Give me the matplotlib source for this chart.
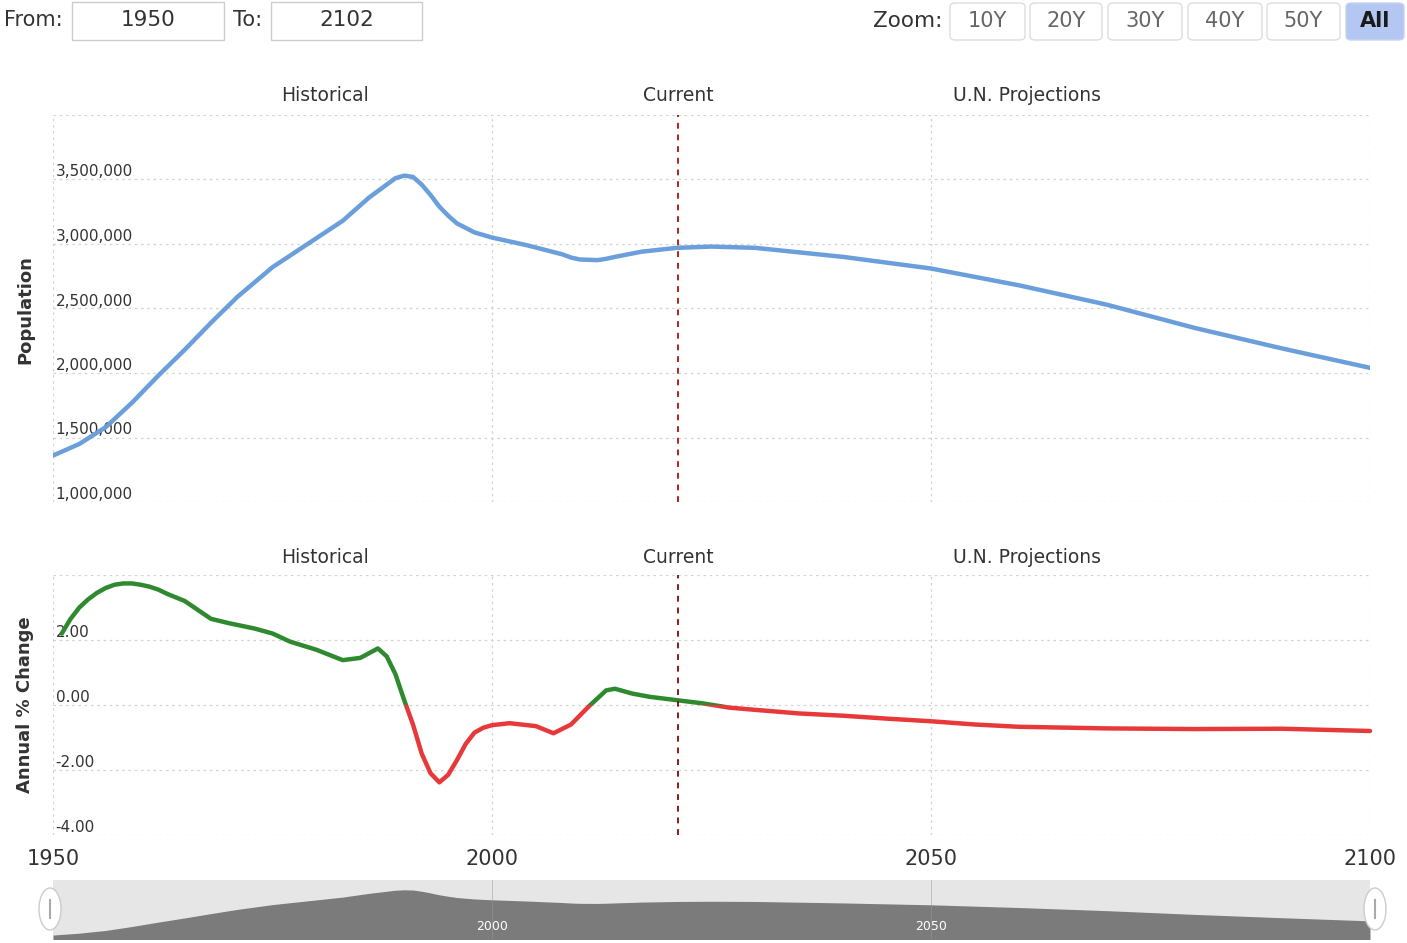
import matplotlib.pyplot as plt
from matplotlib.patches import FancyBboxPatch, Rectangle, Ellipse

# population
pop_years = [1950, 1953, 1956, 1959, 1962, 1965, 1968, 1971, 1975, 1979, 1983, 1986, 1988,
             1989, 1990, 1991, 1992, 1993, 1994, 1995, 1996, 1998, 2000, 2004, 2008, 2009,
             2010, 2012, 2013, 2014, 2017, 2021, 2025, 2030, 2040, 2050, 2060, 2070, 2080,
             2090, 2100]
population = [1360000, 1450000, 1580000, 1770000, 1980000, 2180000, 2390000, 2590000,
              2820000, 3000000, 3180000, 3360000, 3460000, 3510000, 3530000, 3520000,
              3460000, 3380000, 3290000, 3220000, 3160000, 3090000, 3050000, 2990000,
              2920000, 2895000, 2880000, 2875000, 2885000, 2900000, 2940000, 2970000,
              2980000, 2970000, 2900000, 2810000, 2680000, 2530000, 2350000, 2190000,
              2040000]

# annual % change
chg_years = [1951, 1952, 1953, 1954, 1955, 1956, 1957, 1958, 1959, 1960, 1961, 1962, 1963,
             1965, 1968, 1970, 1973, 1975, 1977, 1980, 1983, 1985, 1987, 1988, 1989, 1990,
             1991, 1992, 1993, 1994, 1995, 1996, 1997, 1998, 1999, 2000, 2002, 2005, 2007,
             2009, 2011, 2013, 2014, 2016, 2018, 2021, 2024, 2027, 2030, 2035, 2040, 2045,
             2050, 2055, 2060, 2070, 2080, 2090, 2100]
pct_change = [2.2, 2.65, 3.0, 3.25, 3.45, 3.6, 3.7, 3.74, 3.74, 3.7, 3.64, 3.55, 3.42,
              3.2, 2.65, 2.52, 2.35, 2.2, 1.95, 1.7, 1.38, 1.45, 1.74, 1.5, 0.95, 0.15,
              -0.6, -1.5, -2.1, -2.38, -2.15, -1.7, -1.2, -0.85, -0.7, -0.62, -0.56, -0.65,
              -0.87, -0.6, -0.05, 0.45, 0.5, 0.35, 0.25, 0.15, 0.05, -0.08, -0.15, -0.26,
              -0.33, -0.42, -0.5, -0.6, -0.67, -0.72, -0.74, -0.73, -0.8]

pop_ticks = [1000000, 1500000, 2000000, 2500000, 3000000, 3500000]
chg_ticks = [-4, -2, 0, 2]
x_ticks = [1950, 2000, 2050, 2100]
sections = ['Historical', 'Current', 'U.N. Projections']
section_x = [1981.0, 2021.2, 2060.9]
current_year = 2021.2

W, H = 1407, 943
fig = plt.figure(figsize=(W / 100, H / 100), dpi=100)
plt.rcParams['font.family'] = ['DejaVu Sans']


def fx(px):
    return px / W


def fy(py):
    return 1 - py / H


def axes_box(x0, y0, x1, y1):
    return [fx(x0), fy(y1), fx(x1) - fx(x0), fy(y0) - fy(y1)]


grid_kw = dict(color='#d2d2d2', linewidth=0.9, linestyle=(0, (2, 3)))
txt_col = '#333333'
line_kw = dict(linewidth=3.2, solid_capstyle='round', solid_joinstyle='round', zorder=3)

# ---------- top panel: population ----------
ax1 = fig.add_axes(axes_box(53, 115, 1370, 502))
ax1.plot(pop_years, population, color='#6a9fdb', **line_kw)
ax1.set_xlim(1950, 2100)
ax1.set_ylim(1000000, 4000000)
for v in pop_ticks + [4000000]:
    ax1.axhline(v, **grid_kw, zorder=1)
for v in x_ticks:
    ax1.axvline(v, **grid_kw, zorder=1)
for v in pop_ticks:
    ax1.text(0.002, v, f'{v:,}', transform=ax1.get_yaxis_transform(), fontsize=11,
             color=txt_col, va='bottom', ha='left', zorder=2)
ax1.axvline(current_year, color='#b22222', linewidth=1.4, linestyle=(0, (3, 3)), zorder=4)
ax1.set_xticks([])
ax1.set_yticks([])
for s in ax1.spines.values():
    s.set_visible(False)
for name, x in zip(sections, section_x):
    ax1.text(x, 1.025, name, transform=ax1.get_xaxis_transform(), ha='center',
             va='bottom', fontsize=13.5, color=txt_col)

# ---------- bottom panel: annual % change ----------
ax2 = fig.add_axes(axes_box(53, 575, 1370, 835))
ax2.set_xlim(1950, 2100)
ax2.set_ylim(-4, 4)
pos_line, = ax2.plot(chg_years, pct_change, color='#2f8a2f', **line_kw)
neg_line, = ax2.plot(chg_years, pct_change, color='#e8393a', **line_kw)
pos_line.set_clip_path(Rectangle((1940, 0), 200, 10, transform=ax2.transData))
neg_line.set_clip_path(Rectangle((1940, -10), 200, 10, transform=ax2.transData))
for v in [-4, -2, 0, 2, 4]:
    ax2.axhline(v, **grid_kw, zorder=1)
for v in x_ticks:
    ax2.axvline(v, **grid_kw, zorder=1)
for v in chg_ticks:
    ax2.text(0.002, v, f'{v:.2f}', transform=ax2.get_yaxis_transform(), fontsize=11,
             color=txt_col, va='bottom', ha='left', zorder=2)
ax2.axvline(current_year, color='#8b1a1a', linewidth=1.4, linestyle=(0, (3, 3)), zorder=4)
ax2.set_xticks(x_ticks)
ax2.set_xticklabels([str(v) for v in x_ticks], fontsize=15, color=txt_col)
ax2.tick_params(axis='x', length=0, pad=10)
ax2.set_yticks([])
for s in ax2.spines.values():
    s.set_visible(False)
for name, x in zip(sections, section_x):
    ax2.text(x, 1.03, name, transform=ax2.get_xaxis_transform(), ha='center',
             va='bottom', fontsize=13.5, color=txt_col)

fig.text(fx(25), fy(310), 'Population', rotation=90, ha='center', va='center',
         fontsize=13, fontweight='bold', color=txt_col)
fig.text(fx(25), fy(705), 'Annual % Change', rotation=90, ha='center', va='center',
         fontsize=13, fontweight='bold', color=txt_col)

# ---------- navigator ----------
ax3 = fig.add_axes(axes_box(53, 880, 1370, 939))
ax3.set_facecolor('#e6e6e6')
ax3.fill_between(pop_years, population, 0, color='#7b7b7b', linewidth=0)
ax3.set_xlim(1950, 2100)
ax3.set_ylim(1170000, 4000000)
ax3.set_xticks([])
ax3.set_yticks([])
for s in ax3.spines.values():
    s.set_visible(False)
for v in [2000, 2050]:
    ax3.axvline(v, color='#999999', linewidth=0.6, alpha=0.6)
    ax3.text(v, 0.22, str(v), transform=ax3.get_xaxis_transform(), ha='center',
             va='center', fontsize=9, color='white')
for hx in [50, 1375]:
    fig.patches.append(Ellipse((fx(hx), fy(909)), fx(22), 42 / H, transform=fig.transFigure,
                               facecolor='white', edgecolor='#cccccc', linewidth=1, zorder=5))
    fig.add_artist(plt.Line2D([fx(hx), fx(hx)], [fy(900), fy(918)], color='#aaaaaa',
                              linewidth=1.5, zorder=6))

# ---------- top controls ----------
fig.text(fx(4), fy(20), 'From:', fontsize=15, color=txt_col, va='center', ha='left')
fig.text(fx(233), fy(20), 'To:', fontsize=15, color=txt_col, va='center', ha='left')
for (x0, x1, label) in [(72, 224, '1950'), (271, 422, '2102')]:
    fig.patches.append(Rectangle((fx(x0), fy(40)), fx(x1 - x0), 38 / H,
                                 transform=fig.transFigure, facecolor='white',
                                 edgecolor='#cccccc', linewidth=1))
    fig.text(fx((x0 + x1) / 2), fy(20), label, fontsize=15.5, color=txt_col,
             va='center', ha='center')

fig.text(fx(873), fy(21), 'Zoom:', fontsize=15.5, color=txt_col, va='center', ha='left')
buttons = [(950, 1025, '10Y'), (1030, 1102, '20Y'), (1108, 1182, '30Y'),
           (1188, 1262, '40Y'), (1267, 1340, '50Y'), (1346, 1404, 'All')]
for (x0, x1, label) in buttons:
    active = label == 'All'
    fig.patches.append(FancyBboxPatch((fx(x0), fy(40)), fx(x1 - x0), 37 / H,
                                      boxstyle='round,pad=0,rounding_size=0.004',
                                      transform=fig.transFigure,
                                      facecolor='#b3c7f2' if active else 'white',
                                      edgecolor='#c8d3ee' if active else '#dddddd',
                                      linewidth=1))
    fig.text(fx((x0 + x1) / 2), fy(21), label, fontsize=15,
             color='#1a1a1a' if active else '#666666',
             fontweight='bold' if active else 'normal', va='center', ha='center')

fig.savefig('out.png', dpi=100)
